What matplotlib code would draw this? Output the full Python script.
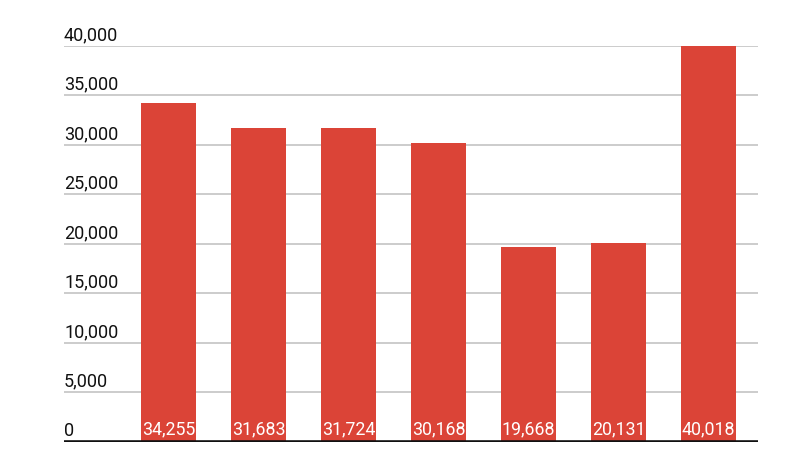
import matplotlib
matplotlib.use("Agg")
import matplotlib.pyplot as plt

values = [34255, 31683, 31724, 30168, 19668, 20131, 40018]
y_ticks = [0, 5000, 10000, 15000, 20000, 25000, 30000, 35000, 40000]
bar_color = "#DB4437"

plt.rcParams["font.family"] = ["Roboto", "DejaVu Sans"]

fig = plt.figure(figsize=(8, 4.5), dpi=100)
ax = fig.add_axes([0.08, 0.018, 0.8675, 0.8798])

x = list(range(len(values)))
ax.bar(x, values, width=0.61, color=bar_color, zorder=2)

ax.set_xlim(-1.16, 6.55)
ax.set_ylim(0, 40000)

# horizontal gridlines with labels sitting just above them
for t in y_ticks:
    if t > 0:
        ax.axhline(t, color="#cccccc", lw=1.4, zorder=1)
    ax.annotate(f"{t:,}", xy=(0, t), xycoords=("axes fraction", "data"),
                xytext=(0, 1.2), textcoords="offset points",
                ha="left", va="bottom", fontsize=13, color="#111111")

ax.axhline(0, color="#111111", lw=2.6, zorder=3)

# value labels inside the bars at the base
for xi, v in zip(x, values):
    ax.annotate(f"{v:,}", xy=(xi, 0), xytext=(0, 2.5), textcoords="offset points",
                ha="center", va="bottom", fontsize=12.8, color="white", zorder=4)

for s in ax.spines.values():
    s.set_visible(False)
ax.set_xticks([])
ax.set_yticks([])

fig.savefig("out.png", dpi=100)
